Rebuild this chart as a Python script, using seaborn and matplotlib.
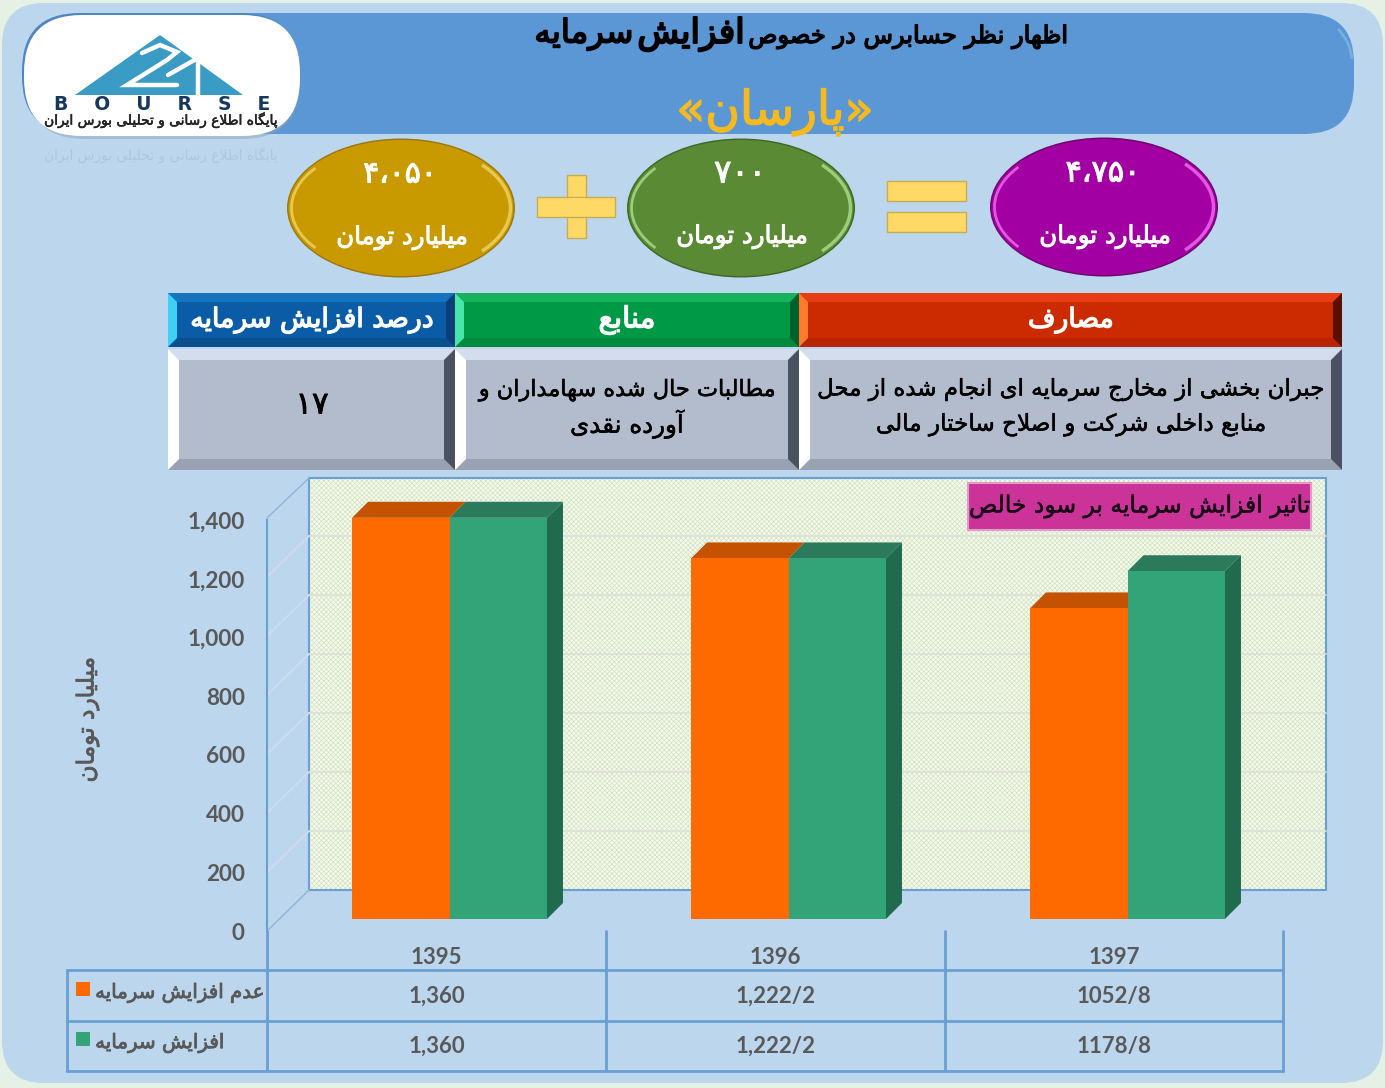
import matplotlib
matplotlib.use('Agg')
import matplotlib.pyplot as plt
import matplotlib.patheffects as pe
import pandas as pd
import seaborn as sns
from matplotlib.font_manager import FontProperties
from matplotlib.patches import Arc, Ellipse, FancyBboxPatch, Polygon, Rectangle
from matplotlib.textpath import TextPath

W, H = 1385, 1088
DPI = 100

# chart data
years = ['1395', '1396', '1397']
no_increase = [1360, 1222.2, 1052.8]
with_increase = [1360, 1222.2, 1178.8]
no_increase_labels = ['1,360', '1,222/2', '1052/8']
with_increase_labels = ['1,360', '1,222/2', '1178/8']
value_ticks = [0, 200, 400, 600, 800, 1000, 1200, 1400]
series_names = ['عدم افزایش سرمایه', 'افزایش سرمایه']
series_colors = ['#ff6a00', '#33a478']

# text blocks
title_parts = ['اظهار نظر حسابرس در خصوص', 'افزایش', 'سرمایه']
company = 'پارسان'
bubble_numbers = ['۴،۰۵۰', '۷۰۰', '۴،۷۵۰']
bubble_unit = 'میلیارد تومان'
head_labels = ['درصد افزایش سرمایه', 'منابع', 'مصارف']
percent_value = '۱۷'
source_lines = ['مطالبات حال شده سهامداران و', 'آورده نقدی']
use_lines = ['جبران بخشی از مخارج سرمایه ای انجام شده از محل',
             'منابع داخلی شرکت و اصلاح ساختار مالی']
chart_title = 'تاثیر افزایش سرمایه بر سود خالص'
logo_line = 'پایگاه اطلاع رسانی و تحلیلی بورس ایران'

# matplotlib has no arabic shaping, so map letters to presentation forms by hand
# order of forms: isolated, final, initial, medial
FORMS = {}
for ch, start in zip('بتثجحخسشصضطظعغفقلمنه',
                     [0xFE8F, 0xFE95, 0xFE99, 0xFE9D, 0xFEA1, 0xFEA5, 0xFEB1, 0xFEB5, 0xFEB9, 0xFEBD,
                      0xFEC1, 0xFEC5, 0xFEC9, 0xFECD, 0xFED1, 0xFED5, 0xFEDD, 0xFEE1, 0xFEE5, 0xFEE9]):
    FORMS[ch] = [chr(start + i) for i in range(4)]
for ch, start in zip('پچکگی', [0xFB56, 0xFB7A, 0xFB8E, 0xFB92, 0xFBFC]):
    FORMS[ch] = [chr(start + i) for i in range(4)]
RIGHT_ONLY = {}
for ch, start in zip('آادذرزو', [0xFE81, 0xFE8D, 0xFEA9, 0xFEAB, 0xFEAD, 0xFEAF, 0xFEED]):
    RIGHT_ONLY[ch] = [chr(start), chr(start + 1)]
RIGHT_ONLY['ژ'] = [chr(0xFB8A), chr(0xFB8B)]


def fa(s):
    out = []
    s = list(s)
    i = 0
    while i < len(s):
        ch = s[i]
        prev = s[i - 1] if i else ' '
        nxt = s[i + 1] if i + 1 < len(s) else ' '
        joined = prev in FORMS
        if ch == 'ل' and nxt == 'ا':
            out.append('\ufefc' if joined else '\ufefb')
            i += 2
            continue
        if ch in FORMS:
            if joined:
                out.append(FORMS[ch][3] if nxt in FORMS or nxt in RIGHT_ONLY else FORMS[ch][1])
            else:
                out.append(FORMS[ch][2] if nxt in FORMS or nxt in RIGHT_ONLY else FORMS[ch][0])
        elif ch in RIGHT_ONLY:
            out.append(RIGHT_ONLY[ch][1 if joined else 0])
        else:
            out.append(ch)
        i += 1
    return ''.join(reversed(out))


def size_for(s, width, weight='normal', family='DejaVu Sans'):
    # font size in points that makes s about width pixels wide
    prop = FontProperties(family=family, weight=weight)
    w10 = TextPath((0, 0), s, size=10, prop=prop).get_extents().width
    return 10 * width / w10 * 72 / DPI


sns.set_theme(style='white')
plt.rcParams['hatch.linewidth'] = 0.5
plt.rcParams['font.family'] = ['DejaVu Sans']

fig = plt.figure(figsize=(W / DPI, H / DPI), dpi=DPI, facecolor='#e4f1e4')


def pixel_axes(x0, y_top, x1, y_bottom, z):
    return fig.add_axes([x0 / W, 1 - y_bottom / H, (x1 - x0) / W, (y_bottom - y_top) / H], zorder=z)


bg = pixel_axes(0, 0, W, H, 0)
bg.set_xlim(0, W)
bg.set_ylim(H, 0)
bg.axis('off')


def put(x, y, s, width, color='black', heavy=0.0, **kw):
    # heavy thickens the regular face, the bold one comes out too small at the same width
    t = bg.text(x, y, s, fontsize=size_for(s, width), color=color, ha='center', va='center',
                family='DejaVu Sans', **kw)
    if heavy:
        t.set_path_effects([pe.withStroke(linewidth=heavy, foreground=color)])
    return t


def rounded(x0, y0, x1, y1, r, **kw):
    bg.add_patch(FancyBboxPatch((x0, y0), x1 - x0, y1 - y0,
                                boxstyle=f'round,pad=0,rounding_size={r}', **kw))


def bevel(x0, y0, x1, y1, w, fill, top, left, right, bottom):
    bg.add_patch(Rectangle((x0, y0), x1 - x0, y1 - y0, fc=fill, ec='none'))
    bg.add_patch(Polygon([(x0, y0), (x1, y0), (x1 - w, y0 + w), (x0 + w, y0 + w)], fc=top, ec='none'))
    bg.add_patch(Polygon([(x0, y1), (x1, y1), (x1 - w, y1 - w), (x0 + w, y1 - w)], fc=bottom, ec='none'))
    bg.add_patch(Polygon([(x0, y0), (x0 + w, y0 + w), (x0 + w, y1 - w), (x0, y1)], fc=left, ec='none'))
    bg.add_patch(Polygon([(x1, y0), (x1 - w, y0 + w), (x1 - w, y1 - w), (x1, y1)], fc=right, ec='none'))


# page background and header band
rounded(2, 3, 1383, 1083, 42, fc='#bcd6ee', ec='none')
rounded(100, 13, 1354, 134, 50, fc='#5b97d5', ec='none')
bg.add_patch(Arc((1304, 63), 96, 96, theta1=-45, theta2=-5, ec='#86b8e8', lw=2, alpha=0.7))

# logo
rounded(27, 20, 300, 139, 58, fc='#8fa3b8', ec='none', alpha=0.5)
rounded(22, 13, 298, 134, 58, fc='#4f86c0', ec='none')
rounded(24, 15, 300, 136, 58, fc='white', ec='none')
bg.add_patch(Polygon([(160, 35), (75, 95), (243, 95)], fc='#3a9bc4', ec='none'))
bg.plot([142, 160, 177, 167, 127, 177], [53, 45, 52, 60, 85, 85], color='white', lw=3.2,
        solid_joinstyle='miter')
bg.plot([168, 198, 198], [75, 58, 95], color='white', lw=3.2, solid_joinstyle='miter')
bg.text(162, 104, 'B    O    U    R    S    E', fontsize=13.5, color='#16385c', fontweight='bold',
        ha='center', va='center', family='DejaVu Sans')
put(161, 120, fa(logo_line), 232, color='#222222', heavy=0.4)
put(161, 155, fa(logo_line), 232, color='#9fb6cc', alpha=0.45)

# title
put(908, 37, fa(title_parts[0]), 316, heavy=1.0)
put(691, 34, fa(title_parts[1]), 102, heavy=1.4)
put(584, 34, fa(title_parts[2]), 94, heavy=1.2)
put(775, 112, '«' + fa(company) + '»', 190, color='#f6b91e', heavy=1.0)

# bubbles
bubbles = [(401, 208, '#c99a00', '#9a7a10', '#ecd060'),
           (741, 208, '#5a8a34', '#3f6a26', '#a9d88a'),
           (1104, 207, '#a200a2', '#6e0a6e', '#ee66ee')]
number_widths = [66, 44, 67]
unit_y = [238, 237, 237]
for (cx, cy, col, dark, light), num, nw, uy in zip(bubbles, bubble_numbers, number_widths, unit_y):
    bg.add_patch(Ellipse((cx, cy), 228, 139, fc=dark, ec='none'))
    bg.add_patch(Ellipse((cx, cy), 225, 136, fc=col, ec='none'))
    bg.add_patch(Arc((cx, cy), 219, 128, theta1=-28, theta2=28, ec=light, lw=2.5, alpha=0.85))
    bg.add_patch(Arc((cx, cy), 219, 128, theta1=155, theta2=205, ec=light, lw=2, alpha=0.85))
    put(cx - 1, cy - 34, num, nw, color='white', heavy=0.8)
    put(cx + 1, uy, fa(bubble_unit), 128, color='white', heavy=0.7)

# plus and equals signs
sign = dict(fc='#ffd966', ec='#c9ab52', lw=1)
bg.add_patch(Rectangle((567, 175), 19, 63, **sign))
bg.add_patch(Rectangle((537, 197), 78, 20, **sign))
bg.add_patch(Rectangle((567.6, 197.6), 17.8, 18.8, fc='#ffd966', ec='none'))
bg.add_patch(Rectangle((887, 181), 79, 20, **sign))
bg.add_patch(Rectangle((887, 212), 79, 20, **sign))

# info table
bevel(168, 293, 455, 347, 9, '#0a5ca6', '#1573c0', '#3fd0f5', '#0a3f78', '#08508f')
bevel(455, 293, 799, 347, 9, '#009a46', '#17b35c', '#45e8a8', '#02602c', '#008a3e')
bevel(799, 293, 1342, 347, 9, '#cc2a00', '#e83c14', '#ff7a2a', '#5a1000', '#b82500')
put(312, 320, fa(head_labels[0]), 240, color='white', heavy=0.9)
put(627, 320, fa(head_labels[1]), 53, color='white', heavy=0.9)
put(1071, 320, fa(head_labels[2]), 82, color='white', heavy=0.9)
for x0, x1 in [(168, 455), (455, 799), (799, 1342)]:
    bevel(x0, 349, x1, 470, 11, '#b2bccd', '#d3dded', 'white', '#4a5160', '#99a2b2')
put(312, 405, percent_value, 28, heavy=0.6)
put(627, 390, fa(source_lines[0]), 296, heavy=0.4)
put(627, 424, fa(source_lines[1]), 113, heavy=0.4)
put(1071, 390, fa(use_lines[0]), 504, heavy=0.4)
put(1071, 425, fa(use_lines[1]), 387, heavy=0.4)

# 3d chart frame: value axis at the front, wall at the back
AXIS_BLUE = '#6a9fd4'
FRONT_X, FRONT_BASE = 267, 931
WALL_X, WALL_BASE, WALL_RIGHT = 309, 890, 1326
PX_PER_UNIT = 413 / 1400
bg.add_patch(Rectangle((WALL_X, WALL_BASE - 412), WALL_RIGHT - WALL_X, 412, fc='#f5f9ee', ec='#d0e3bf',
                       hatch='xxxxxxx', lw=0))
for v in value_ticks[1:-1]:
    wy = WALL_BASE - v * PX_PER_UNIT
    fy = FRONT_BASE - v * PX_PER_UNIT
    bg.plot([WALL_X, WALL_RIGHT], [wy, wy], color='#dde0d6', lw=1.2)
    bg.plot([FRONT_X, WALL_X], [fy, wy], color='#cbdcec', lw=1.5)
bg.add_patch(Rectangle((WALL_X, WALL_BASE - 412), WALL_RIGHT - WALL_X, 412, fc='none', ec=AXIS_BLUE, lw=1.5))
bg.plot([FRONT_X, WALL_X], [FRONT_BASE, WALL_BASE], color='#8fb4d8', lw=1)
bg.plot([FRONT_X, WALL_X], [518, WALL_BASE - 412], color='#8fb4d8', lw=1)

# chart caption
bg.add_patch(Rectangle((968, 483), 343, 47, fc='#cc3399', ec='#e29ac8', lw=1.5))
put(1139, 507, fa(chart_title), 339, color='#1a0a18', heavy=0.4)

# value axis
ax_val = pixel_axes(FRONT_X, 520, FRONT_X + 10, FRONT_BASE, 2)
ax_val.set_facecolor('none')
ax_val.set_ylim(0, 1400)
ax_val.set_xticks([])
ax_val.set_yticks(value_ticks)
ax_val.set_yticklabels([f'{v:,}' for v in value_ticks], fontsize=16.2, color='#595959',
                       fontweight='bold', family='Lato')
ax_val.tick_params(axis='y', length=0, pad=16)
for name in ['top', 'right', 'bottom']:
    ax_val.spines[name].set_visible(False)
ax_val.spines['left'].set_color(AXIS_BLUE)
ax_val.spines['left'].set_linewidth(1.5)

# bars
df = pd.DataFrame({
    'year': years * 2,
    'value': no_increase + with_increase,
    'series': [series_names[0]] * 3 + [series_names[1]] * 3,
})
ax_bars = pixel_axes(280, 506, 1297, 919, 3)
sns.barplot(data=df, x='year', y='value', hue='series', hue_order=series_names, palette=series_colors,
            width=0.575, gap=0, saturation=1, legend=False, linewidth=0, ax=ax_bars)
ax_bars.set_xlim(-0.5, 2.5)
ax_bars.set_ylim(0, 1400)
ax_bars.axis('off')
ax_bars.patch.set_alpha(0)

# fake depth on each bar, offset worked out from the axes scale
dx = 16 / (1017 / 3)
dy = 16 / PX_PER_UNIT
bars = list(ax_bars.patches)
for i, b in enumerate(bars):
    x0, x1, top = b.get_x(), b.get_x() + b.get_width(), b.get_height()
    col = '#2b7a5c' if i >= 3 else '#c55200'
    ax_bars.add_patch(Polygon([(x0, top), (x1, top), (x1 + dx, top + dy), (x0 + dx, top + dy)],
                              fc=col, ec='none', clip_on=False, zorder=2 + (i >= 3)))
    if i >= 3:
        ax_bars.add_patch(Polygon([(x1, 0), (x1, top), (x1 + dx, top + dy), (x1 + dx, dy)],
                                  fc='#206a4d', ec='none', clip_on=False, zorder=4))
    b.set_zorder(5)

# data table below the chart
for x in [267, 606, 945, 1283]:
    bg.plot([x, x], [931, 1071], color=AXIS_BLUE, lw=2)
bg.plot([67, 67], [970, 1071], color=AXIS_BLUE, lw=2)
for y in [970, 1021, 1071]:
    bg.plot([67, 1283], [y, y], color=AXIS_BLUE, lw=2)

cat_centers = [436.5, 775.5, 1114]
for x, yr, a, b in zip(cat_centers, years, no_increase_labels, with_increase_labels):
    for y, s in zip([957, 996, 1046], [yr, a, b]):
        bg.text(x, y, s, fontsize=16, color='#595959', fontweight='bold', family='Lato',
                ha='center', va='center')
for y, name, col, tw in zip([989, 1039], series_names, series_colors, [166, 126]):
    bg.add_patch(Rectangle((76, y - 7), 14, 14, fc=col, ec='none'))
    put(97 + tw / 2, y + 4, fa(name), tw, color='#595959', heavy=0.6)

put(88, 720, fa(bubble_unit), 122, color='#595959', rotation=90, heavy=0.6)

fig.savefig('out.png', dpi=DPI, facecolor=fig.get_facecolor())
